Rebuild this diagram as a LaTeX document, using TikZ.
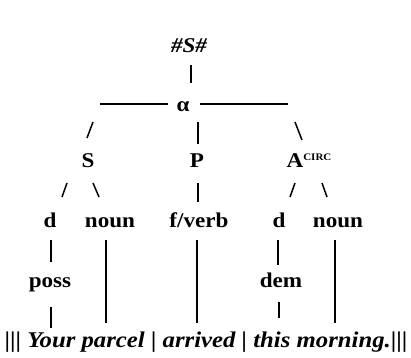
\documentclass[tikz,border=0pt]{standalone}
\usepackage{fontspec}
\setmainfont[FakeStretch=1.1]{Liberation Serif}
\begin{document}
\begin{tikzpicture}[x=1pt,y=-1pt,
  lab/.style={anchor=base,inner sep=0pt,font=\fontsize{21}{25}\selectfont\bfseries},
  conn/.style={line width=1.5pt}]
\useasboundingbox (0,0) rectangle (411,357);
% nodes
\node[lab,font=\fontsize{21}{25}\selectfont\bfseries\itshape] (hash) at (189,52) {\#S\#};
\node[lab] (alpha) at (183,111) {α};
\node[lab] (S) at (88,167) {S};
\node[lab] (P) at (197,167) {P};
\node[lab] (A) at (309,167) {A\raisebox{7pt}{\fontsize{10}{10}\selectfont CIRC}};
\node[lab] (d1) at (50,227) {d};
\node[lab] (n1) at (110,227) {noun};
\node[lab] (fv) at (199,227) {f/verb};
\node[lab] (d2) at (279,227) {d};
\node[lab] (n2) at (338,227) {noun};
\node[lab] (poss) at (50,287) {poss};
\node[lab] (dem) at (281,287) {dem};
\node[lab,font=\fontsize{22.5}{26}\selectfont\bfseries] (sent) at (206,347)
  {||| \textit{Your parcel | arrived | this morning.}|||};
% connector end points
\coordinate (h1) at (191,65);  \coordinate (h2) at (191,83);
\coordinate (l1) at (100,104); \coordinate (l2) at (168,104);
\coordinate (r1) at (200,104); \coordinate (r2) at (288,104);
\coordinate (sa) at (93,122);  \coordinate (sb) at (87,138);
\coordinate (pa) at (198,122); \coordinate (pb) at (198,144);
\coordinate (aa) at (295,122); \coordinate (ab) at (302,140);
\coordinate (s1a) at (67,183); \coordinate (s1b) at (62,197);
\coordinate (s2a) at (93,183); \coordinate (s2b) at (99,197);
\coordinate (p1a) at (198,183); \coordinate (p1b) at (198,202);
\coordinate (a1a) at (295,183); \coordinate (a1b) at (290,197);
\coordinate (a2a) at (322,183); \coordinate (a2b) at (327,197);
% connectors
\draw[conn] (h1) -- (h2);
\draw[conn] (l1) -- (l2);
\draw[conn] (r1) -- (r2);
\draw[conn] (sa) -- (sb);
\draw[conn] (pa) -- (pb);
\draw[conn] (aa) -- (ab);
\draw[conn] (s1a) -- (s1b);
\draw[conn] (s2a) -- (s2b);
\draw[conn] (p1a) -- (p1b);
\draw[conn] (a1a) -- (a1b);
\draw[conn] (a2a) -- (a2b);
\draw[conn] ([xshift=1pt]d1.south) ++(0,13) -- ++(0,22);
\draw[conn] ([xshift=-4pt]n1.south) ++(0,13) -- ++(0,83);
\draw[conn] ([xshift=-2pt]fv.south) ++(0,13) -- ++(0,83);
\draw[conn] ([xshift=-1pt]d2.south) ++(0,13) -- ++(0,25);
\draw[conn] ([xshift=-3pt]n2.south) ++(0,13) -- ++(0,83);
\draw[conn] ([xshift=1pt]poss.south) ++(0,15) -- ++(0,21);
\draw[conn] ([xshift=-2pt]dem.south) ++(0,15) -- ++(0,16);
\end{tikzpicture}
\end{document}
